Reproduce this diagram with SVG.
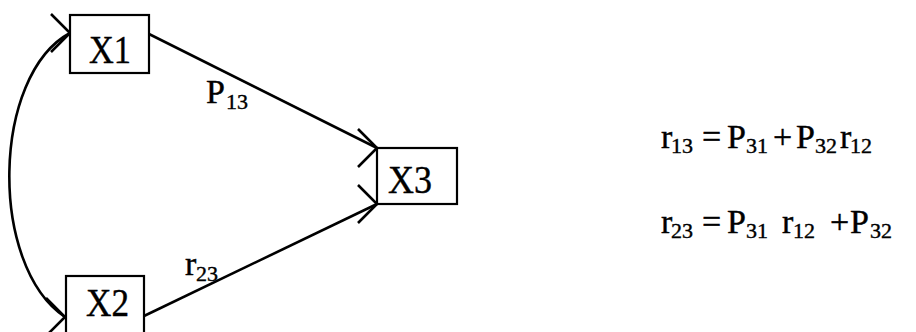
<svg xmlns="http://www.w3.org/2000/svg" width="916" height="332" viewBox="0 0 916 332">
<style>
.box{fill:#fff;stroke:#000;stroke-width:2.2}
.lbl{font-family:"Liberation Serif","Times New Roman",serif;fill:#000;stroke:#000;stroke-width:0.4}
.node{font-size:39px}
.big{font-size:34px}
.sub{font-size:22px}
.con{fill:none;stroke:#000;stroke-width:2.6}
</style>
<defs>
<marker id="ah" markerUnits="userSpaceOnUse" orient="0" refX="0" refY="0" markerWidth="30" markerHeight="44" viewBox="-26 -22 30 44" overflow="visible">
<path d="M-19,-19 L0,0 L-19,19" fill="none" stroke="#000" stroke-width="2.6"/>
</marker>
</defs>
<rect width="916" height="332" fill="#fff"/>
<g id="connectors">
<path class="con" d="M149,34 L377,148" marker-end="url(#ah)"/>
<path class="con" d="M144,316 L377,204" marker-end="url(#ah)"/>
<path class="con" d="M70,33 C-8,75 -12,265 65,317" marker-start="url(#ah)" marker-end="url(#ah)"/>
<text class="lbl"><tspan class="big" x="206" y="103">P</tspan><tspan class="sub" x="226" y="109">13</tspan></text>
<text class="lbl"><tspan class="big" x="185" y="275">r</tspan><tspan class="sub" x="196" y="281">23</tspan></text>
</g>
<g id="X1">
<rect class="box" x="70" y="15" width="79" height="58"/>
<text class="lbl node" x="89" y="63" textLength="42" lengthAdjust="spacingAndGlyphs">X1</text>
</g>
<g id="X2">
<rect class="box" x="66" y="276" width="78" height="60"/>
<text class="lbl node" x="86" y="316" textLength="43" lengthAdjust="spacingAndGlyphs">X2</text>
</g>
<g id="X3">
<rect class="box" x="377" y="148" width="80" height="56"/>
<text class="lbl node" x="388" y="193" textLength="44" lengthAdjust="spacingAndGlyphs">X3</text>
</g>
<g id="equations">
<text class="lbl"><tspan class="big" x="661" y="148">r</tspan><tspan class="sub" x="671" y="153">13</tspan><tspan class="big" x="702" y="148">=</tspan><tspan class="big" x="727" y="148">P</tspan><tspan class="sub" x="746" y="153">31</tspan><tspan class="big" x="773" y="148">+</tspan><tspan class="big" x="796" y="148">P</tspan><tspan class="sub" x="815" y="153">32</tspan><tspan class="big" x="840" y="148">r</tspan><tspan class="sub" x="850" y="153">12</tspan></text>
<text class="lbl"><tspan class="big" x="661" y="233">r</tspan><tspan class="sub" x="671" y="238">23</tspan><tspan class="big" x="702" y="233">=</tspan><tspan class="big" x="727" y="233">P</tspan><tspan class="sub" x="746" y="238">31</tspan><tspan class="big" x="782" y="233">r</tspan><tspan class="sub" x="793" y="238">12</tspan><tspan class="big" x="830" y="233">+</tspan><tspan class="big" x="850" y="233">P</tspan><tspan class="sub" x="870" y="238">32</tspan></text>
</g>
</svg>
